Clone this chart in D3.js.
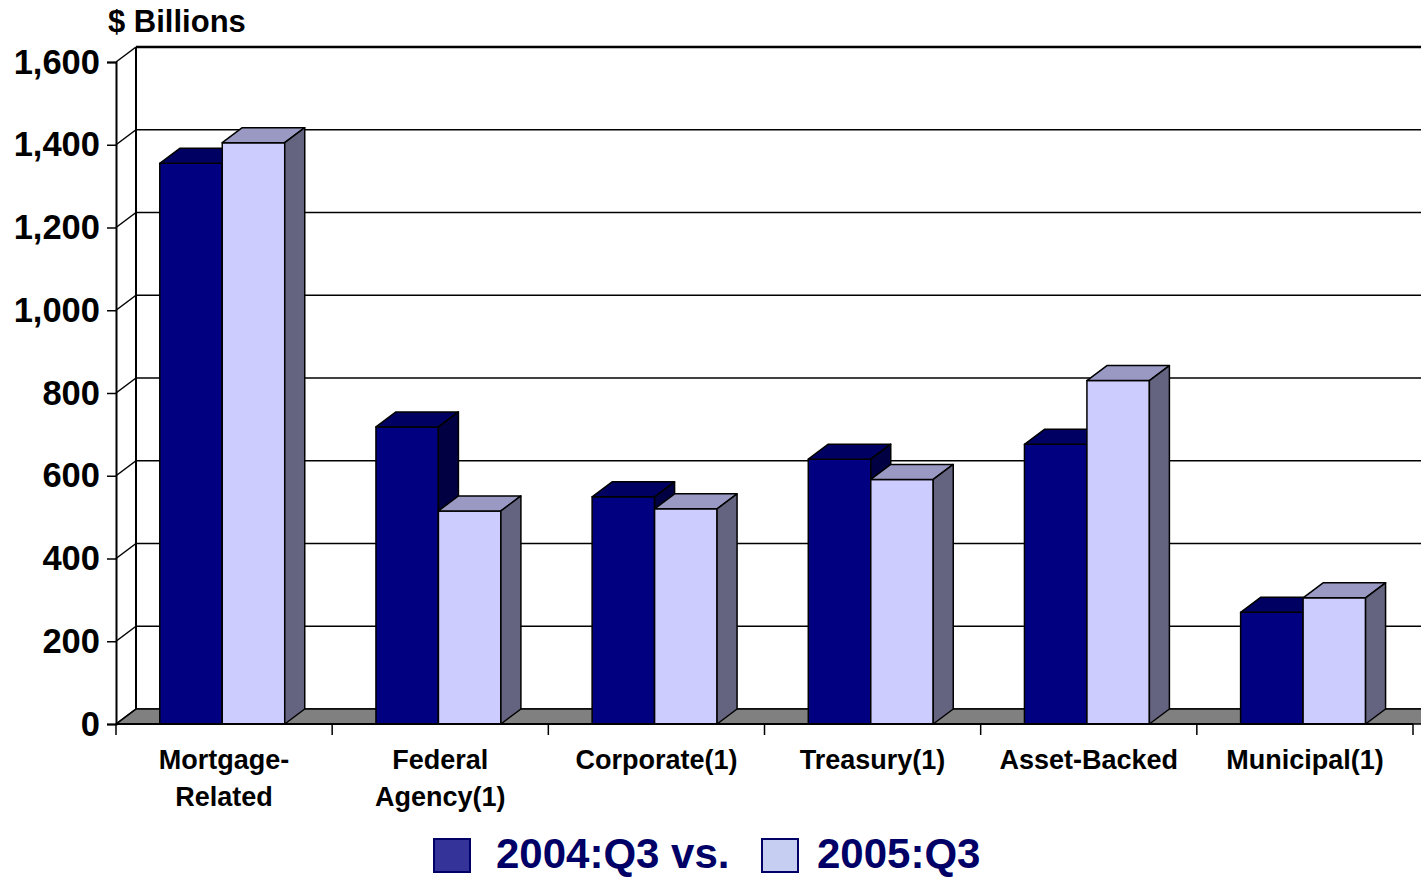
<!DOCTYPE html>
<html><head><meta charset="utf-8">
<script src="https://cdn.jsdelivr.net/npm/d3@7"></script>
<style>
html,body{margin:0;padding:0;background:#fff;overflow:hidden}
text{font-family:Arial,"Liberation Sans",sans-serif;font-weight:bold}
</style></head>
<body>
<svg id="chart" width="1421" height="877"></svg>
<script>
const categories = ["Mortgage-\nRelated", "Federal\nAgency(1)", "Corporate(1)", "Treasury(1)", "Asset-Backed", "Municipal(1)"];
const seriesNames = ["2004:Q3 vs.", "2005:Q3"];
const values2004 = [1355, 718, 549, 640, 676, 270];
const values2005 = [1405, 515, 520, 591, 830, 305];
const yTicks = [0, 200, 400, 600, 800, 1000, 1200, 1400, 1600];
const axisTitle = "$ Billions";

const svg = d3.select("#chart");
const W = 1421;
const dx = 20, dy = -15;
const x0 = 116, x1 = 1413;
const y = d3.scaleLinear().domain([0, 1600]).range([724, 62]);
const x = d3.scaleBand().domain(categories).range([x0, x1]).paddingInner(0).paddingOuter(0);
const xs = d3.scaleBand().domain([0, 1]).range([0, x.bandwidth()]).paddingInner(0).paddingOuter(0.73).align(0.48);

const series = [
  {vals: values2004, front: "#000080", top: "#000063", side: "#000042"},
  {vals: values2005, front: "#ccccff", top: "#9999c3", side: "#646480"}
];

// back wall gridlines
svg.append("g").selectAll("line").data(yTicks).join("line")
  .attr("x1", x0 + dx).attr("x2", W + 5)
  .attr("y1", d => y(d) + dy).attr("y2", d => y(d) + dy)
  .attr("stroke", "#000").attr("stroke-width", d => d === 1600 ? 2.5 : 1.5);

// floor
svg.append("path")
  .attr("d", `M${x0},${y(0)}L${x1 + 40},${y(0)}L${x1 + 40 + dx},${y(0) + dy}L${x0 + dx},${y(0) + dy}Z`)
  .attr("fill", "#808080").attr("stroke", "#000").attr("stroke-width", 1.5);

// left wall
svg.append("line").attr("x1", x0 + dx).attr("x2", x0 + dx).attr("y1", y(1600) + dy).attr("y2", y(0) + dy)
  .attr("stroke", "#000").attr("stroke-width", 2);
svg.append("g").selectAll("line").data(yTicks).join("line")
  .attr("x1", x0).attr("x2", x0 + dx)
  .attr("y1", d => y(d)).attr("y2", d => y(d) + dy)
  .attr("stroke", "#000").attr("stroke-width", 1.5);

// bars
const gb = svg.append("g").attr("stroke", "#000").attr("stroke-width", 1.5).attr("stroke-linejoin", "round");
categories.forEach((c, i) => {
  series.forEach((s, j) => {
    const bx0 = x(c) + xs(j), bx1 = bx0 + xs.bandwidth();
    const yv = y(s.vals[i]), yb = y(0);
    gb.append("rect").attr("x", bx0).attr("y", yv).attr("width", bx1 - bx0).attr("height", yb - yv).attr("fill", s.front);
    gb.append("path").attr("d", `M${bx0},${yv}L${bx1},${yv}L${bx1 + dx},${yv + dy}L${bx0 + dx},${yv + dy}Z`).attr("fill", s.top);
    gb.append("path").attr("d", `M${bx1},${yv}L${bx1 + dx},${yv + dy}L${bx1 + dx},${yb + dy}L${bx1},${yb}Z`).attr("fill", s.side);
  });
});

// y axis
const yAxis = d3.axisLeft(y).tickValues(yTicks).tickFormat(d3.format(",")).tickSize(9).tickPadding(7);
const ga = svg.append("g").attr("transform", `translate(${x0},0)`).call(yAxis);
ga.select(".domain").attr("stroke", "#000").attr("stroke-width", 2);
ga.selectAll(".tick line").attr("stroke", "#000").attr("stroke-width", 1.5);
ga.selectAll(".tick text").attr("fill", "#000").attr("font-size", 34.5).attr("font-family", "Arial, 'Liberation Sans', sans-serif").attr("font-weight", "bold");

// x axis
const bounds = d3.range(categories.length + 1).map(i => x0 + i * x.step());
svg.append("line").attr("x1", x0).attr("x2", x1).attr("y1", y(0)).attr("y2", y(0)).attr("stroke", "#000").attr("stroke-width", 2);
svg.append("g").selectAll("line").data(bounds).join("line")
  .attr("x1", d => d).attr("x2", d => d).attr("y1", y(0)).attr("y2", y(0) + 11)
  .attr("stroke", "#000").attr("stroke-width", 1.5);
const gl = svg.append("g");
categories.forEach(c => {
  const lines = c.split("\n");
  const t = gl.append("text").attr("x", x(c) + x.bandwidth() / 2).attr("text-anchor", "middle")
    .attr("font-size", 27).attr("fill", "#000");
  lines.forEach((l, k) => t.append("tspan").attr("x", x(c) + x.bandwidth() / 2).attr("y", 769 + k * 37).text(l));
});

// axis title
svg.append("text").attr("x", 108).attr("y", 32).attr("font-size", 31).attr("fill", "#000").text(axisTitle);

// legend
const legColors = [{fill: "#333399"}, {fill: "#c6cef2"}];
const legX = [434, 762], legTextX = [496, 817];
seriesNames.forEach((n, i) => {
  svg.append("rect").attr("x", legX[i]).attr("y", 839).attr("width", 36).attr("height", 33)
    .attr("fill", legColors[i].fill).attr("stroke", "#000066").attr("stroke-width", 2);
  svg.append("text").attr("x", legTextX[i]).attr("y", 868).attr("font-size", 42).attr("fill", "#000066").text(n);
});
</script>
</body></html>
